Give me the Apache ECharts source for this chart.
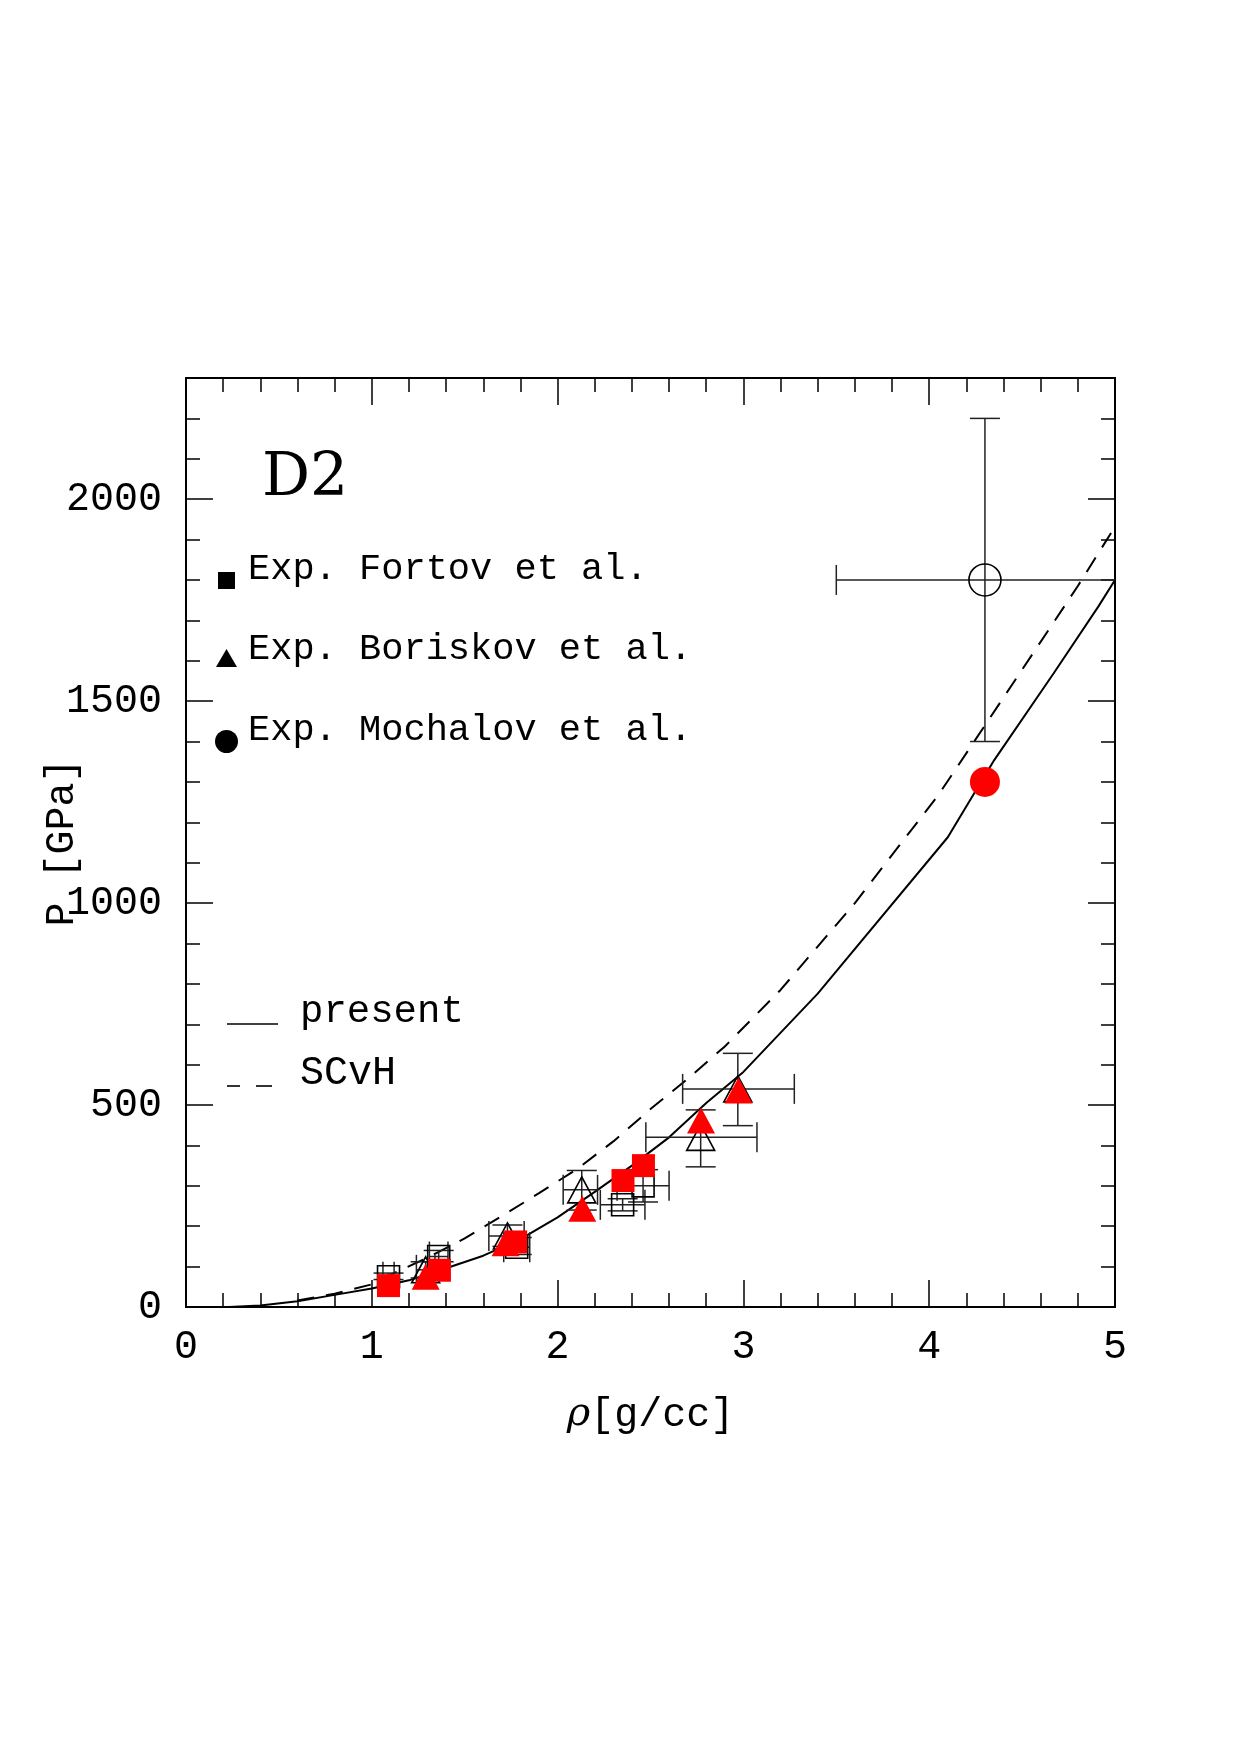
<!DOCTYPE html>
<html>
<head>
<meta charset="utf-8">
<script src="https://cdn.jsdelivr.net/npm/echarts@6/dist/echarts.min.js"></script>
<style>
  html, body { margin: 0; padding: 0; background: #fff; }
  #chart { width: 1240px; height: 1755px; }
</style>
</head>
<body>
<div id="chart"></div>
<script>
// theory curves
const presentX = [0.23, 0.4, 0.6, 0.8, 1.0, 1.2, 1.4, 1.6, 1.8, 2.0, 2.2, 2.4, 2.6, 2.8, 3.0, 3.4, 4.1, 4.35, 4.67, 4.91, 5.0]
const presentP = [0, 4, 14, 30, 46, 66, 96, 127, 168, 222, 285, 350, 420, 505, 582, 776, 1163, 1354, 1569, 1734, 1800]
const scvhX = [0.6, 0.8, 1.0, 1.1, 1.3, 1.5, 1.7, 1.9, 2.1, 2.3, 2.5, 2.7, 2.9, 3.2, 3.6, 4.05, 4.3, 4.8, 5.0]
const scvhP = [16, 33, 56, 80, 122, 170, 225, 282, 340, 410, 490, 565, 645, 785, 1000, 1268, 1440, 1785, 1932]

// experiments (open symbols) with error ranges
const fortovX = [1.09, 1.36, 1.78, 2.35, 2.46]
const fortovP = [75, 125, 148, 253, 300]
const fortovXLo = [1.06, 1.31, 1.71, 2.23, 2.32]
const fortovXHi = [1.12, 1.41, 1.85, 2.47, 2.6]
const fortovPLo = [68, 112, 130, 238, 260]
const fortovPHi = [84, 140, 172, 268, 340]

const boriskovX = [1.29, 1.73, 2.13, 2.77, 2.97]
const boriskovP = [92, 176, 290, 420, 540]
const boriskovXLo = [1.24, 1.63, 2.03, 2.475, 2.673]
const boriskovXHi = [1.34, 1.82, 2.215, 3.073, 3.274]
const boriskovPLo = [72, 150, 240, 347, 449]
const boriskovPHi = [112, 203, 338, 488, 628]

const mochalovX = [4.3]
const mochalovP = [1800]
const mochalovXLo = [3.5]
const mochalovXHi = [5.1]
const mochalovPLo = [1400]
const mochalovPHi = [2200]

// present calculation at the experimental points (red)
const calcSqX = [1.09, 1.364, 1.774, 2.352, 2.462]
const calcSqP = [53, 91, 161, 313, 350]
const calcTriX = [1.29, 1.72, 2.133, 2.772, 2.974]
const calcTriP = [75, 158, 243, 462, 536]
const calcCirX = [4.3]
const calcCirP = [1300]

const xTicks = [0, 1, 2, 3, 4, 5]
const yTicks = [0, 500, 1000, 1500, 2000]

const FONT = 'Liberation Mono'
const TITLE_FONT = 'DejaVu Serif'
const RED = '#ff0000'

const pairs = (xs, ys) => xs.map((x, i) => [x, ys[i]])
const errRows = (xs, ys, xl, xh, yl, yh) => xs.map((x, i) => [x, ys[i], xl[i], xh[i], yl[i], yh[i]])

function renderErr(params, api) {
  const x = api.value(0)
  const y = api.value(1)
  const pL = api.coord([api.value(2), y])
  const pR = api.coord([api.value(3), y])
  const pB = api.coord([x, api.value(4)])
  const pT = api.coord([x, api.value(5)])
  const c = 15
  const style = { stroke: '#222', lineWidth: 1.5, fill: null }
  const ln = (x1, y1, x2, y2) => ({ type: 'line', shape: { x1, y1, x2, y2 }, style })
  return {
    type: 'group',
    children: [
      ln(pL[0], pL[1], pR[0], pR[1]),
      ln(pL[0], pL[1] - c, pL[0], pL[1] + c),
      ln(pR[0], pR[1] - c, pR[0], pR[1] + c),
      ln(pB[0], pB[1], pT[0], pT[1]),
      ln(pB[0] - c, pB[1], pB[0] + c, pB[1]),
      ln(pT[0] - c, pT[1], pT[0] + c, pT[1])
    ]
  }
}

const lineStyle = { color: '#000', width: 2 }
const tickStyle = { color: '#000', width: 1.5 }

function xAxis(pos, showLabel) {
  return {
    type: 'value',
    position: pos,
    min: xTicks[0],
    max: xTicks[xTicks.length - 1],
    interval: 1,
    axisLine: { show: true, onZero: false, lineStyle },
    axisTick: { show: true, inside: true, length: 27, lineStyle: tickStyle },
    minorTick: { show: true, splitNumber: 5, length: 14, lineStyle: tickStyle },
    splitLine: { show: false },
    axisLabel: { show: showLabel, color: '#000', fontFamily: FONT, fontSize: 40, margin: 20 }
  }
}

function yAxis(pos, major, showLabel) {
  return {
    type: 'value',
    position: pos,
    min: 0,
    max: 2300,
    interval: major ? 500 : 100,
    axisLine: { show: true, onZero: false, lineStyle },
    axisTick: { show: true, inside: true, length: major ? 27 : 14, lineStyle: tickStyle },
    splitLine: { show: false },
    axisLabel: {
      show: showLabel,
      color: '#000',
      fontFamily: FONT,
      fontSize: 40,
      margin: 24,
      formatter: v => (yTicks.includes(v) ? String(v) : '')
    }
  }
}

const chart = echarts.init(document.getElementById('chart'), null, { renderer: 'canvas' })

const xBottom = xAxis('bottom', true)
xBottom.name = '{i|ρ}[g/cc]'
xBottom.nameLocation = 'middle'
xBottom.nameGap = 88
xBottom.nameMoveOverlap = false
xBottom.nameTextStyle = {
  color: '#000', fontFamily: FONT, fontSize: 40,
  rich: { i: { fontStyle: 'italic', fontFamily: TITLE_FONT, fontSize: 40, color: '#000' } }
}

const yLeft = yAxis('left', true, true)
yLeft.name = 'P [GPa]'
yLeft.nameLocation = 'middle'
yLeft.nameRotate = 90
yLeft.nameGap = 104
yLeft.nameMoveOverlap = false
yLeft.nameTextStyle = { color: '#000', fontFamily: FONT, fontSize: 40 }

const openStyle = { color: 'rgba(0,0,0,0)', borderColor: '#000', borderWidth: 1.6, opacity: 1 }
const redStyle = { color: RED, opacity: 1 }

chart.setOption({
  animation: false,
  backgroundColor: '#fff',
  grid: { left: 186, top: 378, width: 929, height: 929, outerBoundsMode: 'none' },
  xAxis: [xBottom, xAxis('top', false)],
  yAxis: [yLeft, yAxis('left', false, false), yAxis('right', true, false), yAxis('right', false, false)],
  series: [
    {
      name: 'present', type: 'line', data: pairs(presentX, presentP),
      showSymbol: false, symbol: 'none', lineStyle: { color: '#000', width: 2 }, z: 2
    },
    {
      name: 'SCvH', type: 'line', data: pairs(scvhX, scvhP),
      showSymbol: false, symbol: 'none', lineStyle: { color: '#000', width: 2, type: [17, 12] }, z: 2
    },
    {
      type: 'custom', renderItem: renderErr, clip: true, z: 3,
      encode: { x: 0, y: 1 },
      data: errRows(fortovX, fortovP, fortovXLo, fortovXHi, fortovPLo, fortovPHi)
        .concat(errRows(boriskovX, boriskovP, boriskovXLo, boriskovXHi, boriskovPLo, boriskovPHi))
        .concat(errRows(mochalovX, mochalovP, mochalovXLo, mochalovXHi, mochalovPLo, mochalovPHi))
    },
    { type: 'scatter', symbol: 'rect', symbolSize: 22, data: pairs(fortovX, fortovP), itemStyle: openStyle, z: 4 },
    { type: 'scatter', symbol: 'triangle', symbolSize: [28, 26], data: pairs(boriskovX, boriskovP), itemStyle: openStyle, z: 4 },
    { type: 'scatter', symbol: 'circle', symbolSize: 32, data: pairs(mochalovX, mochalovP), itemStyle: openStyle, z: 4 },
    { type: 'scatter', symbol: 'rect', symbolSize: 23, data: pairs(calcSqX, calcSqP), itemStyle: redStyle, z: 5 },
    { type: 'scatter', symbol: 'triangle', symbolSize: [28, 26], data: pairs(calcTriX, calcTriP), itemStyle: redStyle, z: 5 },
    { type: 'scatter', symbol: 'circle', symbolSize: 30, data: pairs(calcCirX, calcCirP), itemStyle: redStyle, z: 5 }
  ],
  graphic: [
    { type: 'text', x: 262, y: 479, style: { text: 'D2', fontFamily: TITLE_FONT, fontSize: 60, fill: '#000', align: 'left', verticalAlign: 'middle' } },
    { type: 'rect', shape: { x: 218, y: 572, width: 17, height: 17 }, style: { fill: '#000' } },
    { type: 'text', x: 248, y: 569, style: { text: 'Exp. Fortov et al.', fontFamily: FONT, fontSize: 37, fill: '#000', verticalAlign: 'middle' } },
    { type: 'polygon', shape: { points: [[216, 667], [237, 667], [226.5, 649]] }, style: { fill: '#000' } },
    { type: 'text', x: 248, y: 649, style: { text: 'Exp. Boriskov et al.', fontFamily: FONT, fontSize: 37, fill: '#000', verticalAlign: 'middle' } },
    { type: 'circle', shape: { cx: 226.5, cy: 741.5, r: 11.5 }, style: { fill: '#000' } },
    { type: 'text', x: 248, y: 730, style: { text: 'Exp. Mochalov et al.', fontFamily: FONT, fontSize: 37, fill: '#000', verticalAlign: 'middle' } },
    { type: 'line', shape: { x1: 227, y1: 1024, x2: 278, y2: 1024 }, style: { stroke: '#000', lineWidth: 1.6 } },
    { type: 'text', x: 300, y: 1012, style: { text: 'present', fontFamily: FONT, fontSize: 39, fill: '#000', verticalAlign: 'middle' } },
    { type: 'line', shape: { x1: 227, y1: 1086, x2: 240, y2: 1086 }, style: { stroke: '#000', lineWidth: 1.6 } },
    { type: 'line', shape: { x1: 256, y1: 1086, x2: 272, y2: 1086 }, style: { stroke: '#000', lineWidth: 1.6 } },
    { type: 'text', x: 300, y: 1073, style: { text: 'SCvH', fontFamily: FONT, fontSize: 40, fill: '#000', verticalAlign: 'middle' } }
  ]
})
</script>
</body>
</html>
